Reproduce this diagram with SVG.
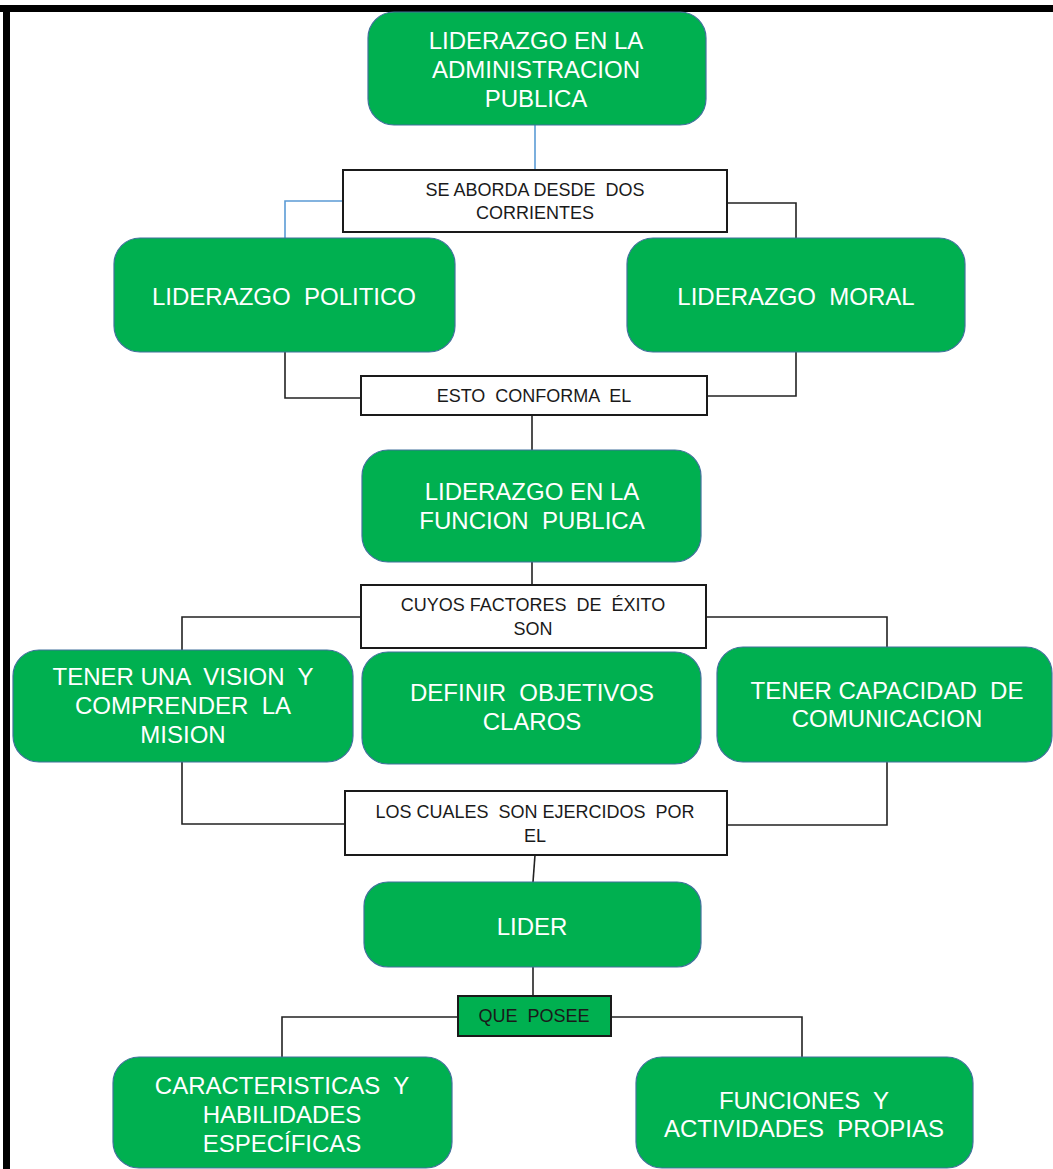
<svg xmlns="http://www.w3.org/2000/svg" width="1053" height="1169" viewBox="0 0 1053 1169">
<style>
.node{fill:#00B050;stroke:#41719C;stroke-width:1.2}
.lbl{fill:#FFFFFF;stroke:#1a1a1a;stroke-width:2}
.lblg{fill:#00B050;stroke:#1a1a1a;stroke-width:2}
.nt{font-family:"Liberation Sans",Arial,sans-serif;font-size:24px;fill:#FFFFFF;text-anchor:middle}
.lt{font-family:"Liberation Sans",Arial,sans-serif;font-size:18px;fill:#1a1a1a;text-anchor:middle}
.c{fill:none;stroke:#222;stroke-width:1.6}
.cb{fill:none;stroke:#5B9BD5;stroke-width:1.6}
</style>
<rect x="0" y="0" width="1053" height="1169" fill="#FFFFFF"/>
<rect x="0" y="5" width="1053" height="7" fill="#000"/>
<rect x="3" y="5" width="7" height="1164" fill="#000"/>

<g id="connectors">
<path class="cb" d="M535 125 V170"/>
<path class="cb" d="M343 201 H285 V238"/>
<path class="c" d="M727 203 H796 V238"/>
<path class="c" d="M285 352 V398 H361"/>
<path class="c" d="M796 352 V396 H707"/>
<path class="c" d="M532 415 V450"/>
<path class="c" d="M532 562 V585"/>
<path class="c" d="M361 617 H182 V650"/>
<path class="c" d="M706 617 H887 V648"/>
<path class="c" d="M182 762 V824 H345"/>
<path class="c" d="M887 762 V825 H727"/>
<path class="c" d="M535 855 L533 882"/>
<path class="c" d="M533 967 V996"/>
<path class="c" d="M458 1017 H282 V1057"/>
<path class="c" d="M611 1017 H802 V1057"/>
</g>

<g id="n-admin">
<rect class="node" x="368" y="12" width="338" height="113" rx="26"/>
<text class="nt" x="536" y="49">LIDERAZGO EN LA</text>
<text class="nt" x="536" y="78">ADMINISTRACION</text>
<text class="nt" x="536" y="107">PUBLICA</text>
</g>

<g id="l-aborda">
<rect class="lbl" x="343" y="170" width="384" height="62"/>
<text class="lt" x="535" y="196" xml:space="preserve">SE ABORDA DESDE  DOS</text>
<text class="lt" x="535" y="219">CORRIENTES</text>
</g>

<g id="n-politico">
<rect class="node" x="114" y="238" width="341" height="114" rx="26"/>
<text class="nt" x="284" y="305" xml:space="preserve">LIDERAZGO  POLITICO</text>
</g>

<g id="n-moral">
<rect class="node" x="627" y="238" width="338" height="114" rx="26"/>
<text class="nt" x="796" y="305" xml:space="preserve">LIDERAZGO  MORAL</text>
</g>

<g id="l-conforma">
<rect class="lbl" x="361" y="376" width="346" height="39"/>
<text class="lt" x="534" y="402" xml:space="preserve">ESTO  CONFORMA  EL</text>
</g>

<g id="n-funcion">
<rect class="node" x="362" y="450" width="339" height="112" rx="26"/>
<text class="nt" x="532" y="500">LIDERAZGO EN LA</text>
<text class="nt" x="532" y="529" xml:space="preserve">FUNCION  PUBLICA</text>
</g>

<g id="l-factores">
<rect class="lbl" x="361" y="585" width="345" height="63"/>
<text class="lt" x="533" y="611" xml:space="preserve">CUYOS FACTORES  DE  ÉXITO</text>
<text class="lt" x="533" y="635">SON</text>
</g>

<g id="n-vision">
<rect class="node" x="13" y="650" width="340" height="112" rx="26"/>
<text class="nt" x="183" y="685" xml:space="preserve">TENER UNA  VISION  Y</text>
<text class="nt" x="183" y="714" xml:space="preserve">COMPRENDER  LA</text>
<text class="nt" x="183" y="743">MISION</text>
</g>

<g id="n-objetivos">
<rect class="node" x="362" y="652" width="339" height="112" rx="26"/>
<text class="nt" x="532" y="701" xml:space="preserve">DEFINIR  OBJETIVOS</text>
<text class="nt" x="532" y="730">CLAROS</text>
</g>

<g id="n-comunicacion">
<rect class="node" x="717" y="647" width="335" height="115" rx="26"/>
<text class="nt" x="887" y="699" xml:space="preserve">TENER CAPACIDAD  DE</text>
<text class="nt" x="887" y="727">COMUNICACION</text>
</g>

<g id="l-ejercidos">
<rect class="lbl" x="345" y="791" width="382" height="64"/>
<text class="lt" x="535" y="818" xml:space="preserve">LOS CUALES  SON EJERCIDOS  POR</text>
<text class="lt" x="535" y="842">EL</text>
</g>

<g id="n-lider">
<rect class="node" x="364" y="882" width="337" height="85" rx="24"/>
<text class="nt" x="532" y="935">LIDER</text>
</g>

<g id="l-posee">
<rect class="lblg" x="458" y="996" width="153" height="40"/>
<text class="lt" x="534" y="1022" xml:space="preserve">QUE  POSEE</text>
</g>

<g id="n-caracteristicas">
<rect class="node" x="113" y="1057" width="339" height="111" rx="26"/>
<text class="nt" x="282" y="1094" xml:space="preserve">CARACTERISTICAS  Y</text>
<text class="nt" x="282" y="1123">HABILIDADES</text>
<text class="nt" x="282" y="1152">ESPECÍFICAS</text>
</g>

<g id="n-funciones">
<rect class="node" x="636" y="1057" width="337" height="111" rx="26"/>
<text class="nt" x="804" y="1109" xml:space="preserve">FUNCIONES  Y</text>
<text class="nt" x="804" y="1137" xml:space="preserve">ACTIVIDADES  PROPIAS</text>
</g>
</svg>
